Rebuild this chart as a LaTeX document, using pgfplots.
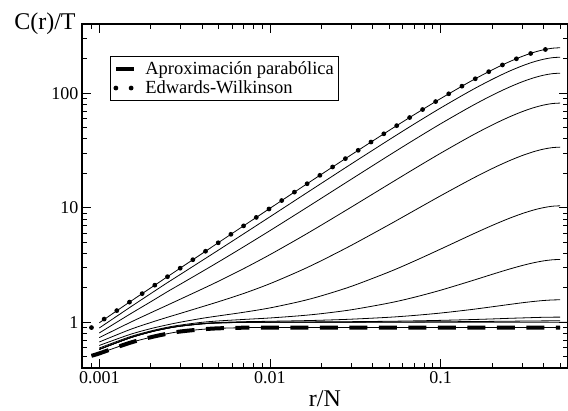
\documentclass[border=0pt]{standalone}
\usepackage{pgfplots}
\pgfplotsset{compat=1.18}
\usepackage{pgfplotstable}
\usepackage{fontspec}
\setmainfont{Liberation Serif}

\pgfplotstableread{
x A B C D E F G H I K
0.001 0.990 0.892 0.807 0.735 0.673 0.628 0.596 0.581 0.580 0.580
0.0015 1.498 1.340 1.170 0.990 0.860 0.780 0.745 0.730 0.728 0.728
0.002 1.996 1.780 1.510 1.210 0.995 0.880 0.840 0.827 0.825 0.824
0.0025 2.494 2.214 1.847 1.410 1.105 0.950 0.905 0.890 0.887 0.886
0.003 2.991 2.632 2.161 1.599 1.199 1.004 0.947 0.931 0.927 0.926
0.004 3.984 3.460 2.772 1.952 1.367 1.083 1.000 0.976 0.970 0.969
0.005 4.975 4.281 3.372 2.287 1.514 1.138 1.028 0.996 0.989 0.988
0.007 6.951 5.916 4.558 2.939 1.784 1.223 1.059 1.012 1.001 0.999
0.01 9.900 8.351 6.322 3.901 2.175 1.336 1.091 1.021 1.004 1.001
0.015 14.78 12.38 9.237 5.491 2.818 1.520 1.141 1.032 1.006 1.002
0.02 19.60 16.36 12.12 7.064 3.455 1.703 1.190 1.043 1.009 1.002
0.03 29.10 24.21 17.80 10.16 4.709 2.062 1.287 1.065 1.013 1.003
0.05 47.50 39.41 28.81 16.16 7.138 2.758 1.475 1.107 1.021 1.006
0.07 65.10 53.94 39.33 21.89 9.461 3.423 1.654 1.148 1.029 1.008
0.1 90.00 74.51 54.22 30.01 12.75 4.364 1.908 1.205 1.040 1.011
0.15 127.5 105.5 76.65 42.24 17.70 5.782 2.291 1.291 1.056 1.015
0.2 160.0 132.3 96.08 52.83 21.99 7.010 2.622 1.366 1.070 1.019
0.25 187.5 155.1 112.5 61.80 25.62 8.050 2.903 1.429 1.083 1.022
0.3 210.0 173.6 126.0 69.13 28.59 8.900 3.132 1.481 1.092 1.025
0.35 227.5 188.1 136.4 74.84 30.90 9.562 3.311 1.521 1.100 1.027
0.4 240.0 198.4 143.9 78.91 32.55 10.03 3.438 1.550 1.106 1.029
0.45 247.5 204.6 148.4 81.36 33.54 10.32 3.515 1.567 1.109 1.030
0.5 250.0 206.7 149.9 82.17 33.87 10.41 3.540 1.573 1.110 1.030
}\curves

\pgfplotstableread{
x y
0.0009 0.899
0.001063 1.062
0.0012555 1.254
0.001483 1.481
0.0017515 1.748
0.0020687 2.064
0.0024434 2.437
0.002886 2.878
0.0034086 3.397
0.004026 4.010
0.0047552 4.733
0.0056165 5.585
0.0066336 6.590
0.007821 7.760
0.009236 9.151
0.010909 10.79
0.012884 12.72
0.015215 14.98
0.017969 17.65
0.021223 20.77
0.025065 24.44
0.029599 28.72
0.034956 33.73
0.041283 39.58
0.048753 46.38
0.057582 54.27
0.068004 63.38
0.080253 73.81
0.09477 85.79
0.11196 99.42
0.13221 114.73
0.15615 131.77
0.18432 150.35
0.21771 170.31
0.25713 191.01
0.30366 211.45
0.35856 230.0
0.42345 244.14
0.5 250.0
}\ew

\begin{document}
\begin{tikzpicture}
\path[use as bounding box] (-82pt,-42pt) rectangle (486pt,368pt);
\begin{axis}[
  at={(0pt,0pt)}, anchor=south west,
  scale only axis, width=486pt, height=344pt,
  xmode=log, ymode=log,
  xmin=0.000792, xmax=0.5568, ymin=0.399, ymax=403,
  xtick={0.001,0.01,0.1}, xticklabels={0.001,0.01,0.1},
  ytick={1,10,100}, yticklabels={1,10,100},
  minor xtick={0.0008,0.0009,0.002,0.003,0.004,0.005,0.006,0.007,0.008,0.009,0.02,0.03,0.04,0.05,0.06,0.07,0.08,0.09,0.2,0.3,0.4,0.5},
  minor ytick={0.4,0.5,0.6,0.7,0.8,0.9,2,3,4,5,6,7,8,9,20,30,40,50,60,70,80,90,200,300,400},
  tick align=inside, major tick length=9pt, minor tick length=5pt,
  tick style={black, line width=0.8pt},
  axis line style={line width=1.5pt},
  ticklabel style={font=\fontsize{18}{20}\selectfont},
  xlabel={r/N}, ylabel={C(r)/T},
  every axis x label/.style={at={(rel axis cs:0.5,0)}, anchor=base, yshift=-38pt, font=\fontsize{24}{26}\selectfont},
  every axis y label/.style={at={(rel axis cs:0,1)}, anchor=base, xshift=-37pt, yshift=-5pt, font=\fontsize{24}{26}\selectfont},
  legend style={at={(0.0576,0.907)}, anchor=north west, draw=black, line width=1pt,
    font=\fontsize{18.5}{21}\selectfont, inner xsep=3pt, inner ysep=3pt, row sep=1pt,
    cells={anchor=west}},
  legend image code/.code={\draw[#1] (0pt,0pt) -- (20pt,0pt); \path (25pt,0pt);},
]
\foreach \c in {A,B,C,D,E,F,G,H,I,K}{
  \addplot[black, line width=0.8pt, smooth, forget plot] table[x=x, y=\c] {\curves};
}
\addplot[black, line width=0.8pt, smooth, forget plot] coordinates {
(0.001,0.58)(0.0015,0.728)(0.002,0.824)(0.0025,0.886)(0.003,0.926)(0.004,0.969)(0.005,0.987)(0.007,0.998)(0.01,1.0)(0.1,1.0)(0.56,1.0)};
\addplot[black, line width=0.8pt, smooth, forget plot] coordinates {
(0.0009,0.51)(0.001,0.535)(0.0015,0.66)(0.002,0.74)(0.0025,0.795)(0.003,0.832)(0.004,0.868)(0.005,0.886)(0.007,0.897)(0.01,0.9)(0.5,0.9)};
\addplot[black, line width=4pt, dash pattern=on 18pt off 11.5pt, smooth] coordinates {
(0.0009,0.51)(0.001,0.535)(0.0015,0.66)(0.002,0.74)(0.0025,0.795)(0.003,0.832)(0.004,0.868)(0.005,0.886)(0.007,0.897)(0.01,0.9)(0.5,0.9)};
\addlegendentry{Aproximación parabólica}
\addplot[black, line width=4.8pt, line cap=round, dash pattern=on 0pt off 15.25pt] table[x=x, y=y] {\ew};
\addlegendentry{Edwards-Wilkinson}
\end{axis}
\end{tikzpicture}
\end{document}
